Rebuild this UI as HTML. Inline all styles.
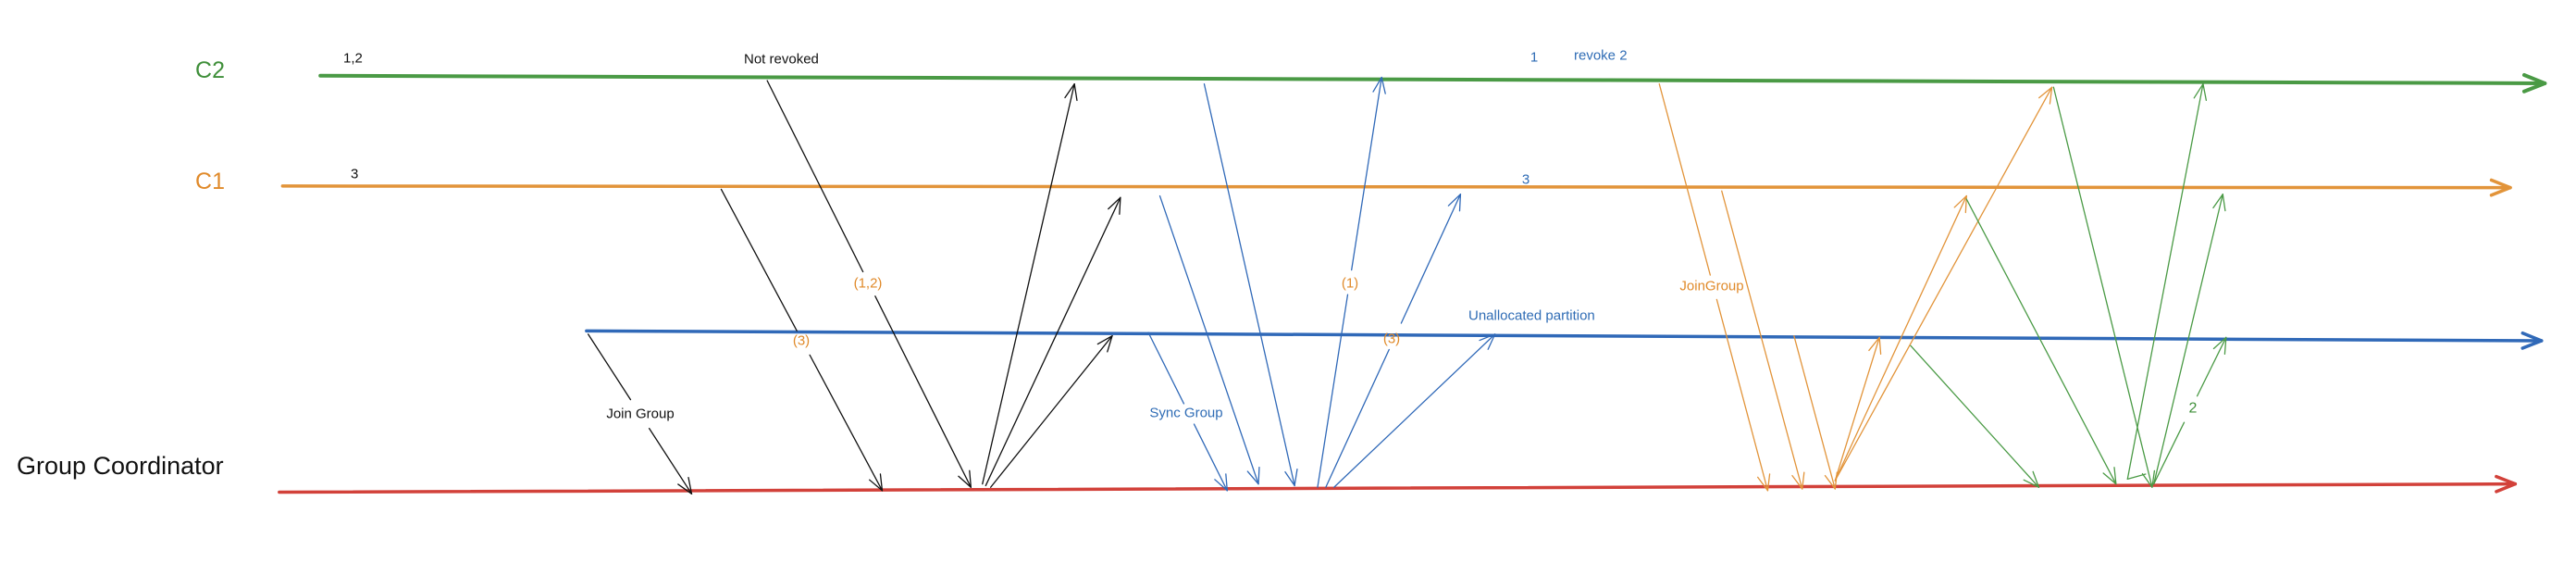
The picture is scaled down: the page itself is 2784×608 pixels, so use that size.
<!DOCTYPE html>
<html><head><meta charset="utf-8"><style>
html,body{margin:0;padding:0;background:#fff;}
svg{display:block;}
text{font-family:"Liberation Sans",sans-serif;}
</style></head><body>
<svg id="s" width="2784" height="608" viewBox="0 0 2784 608" xmlns="http://www.w3.org/2000/svg">
<g id="g"></g>
<text x="227" y="76" font-size="25" fill="#3f8f3a" text-anchor="middle" dominant-baseline="central">C2</text>
<text x="227" y="196" font-size="25" fill="#e08a2a" text-anchor="middle" dominant-baseline="central">C1</text>
<text x="18" y="503" font-size="27" fill="#111" dominant-baseline="central">Group Coordinator</text>
<text x="371" y="63" font-size="15" fill="#111" dominant-baseline="central">1,2</text>
<text x="804" y="64" font-size="15" fill="#111" dominant-baseline="central">Not revoked</text>
<text x="379" y="188" font-size="15" fill="#111" dominant-baseline="central">3</text>
<text x="938" y="306" font-size="15" fill="#e08a2a" text-anchor="middle" dominant-baseline="central">(1,2)</text>
<text x="866" y="368" font-size="15" fill="#e08a2a" text-anchor="middle" dominant-baseline="central">(3)</text>
<text x="692" y="447" font-size="15" fill="#111" text-anchor="middle" dominant-baseline="central">Join Group</text>
<text x="1282" y="446" font-size="15" fill="#2f6cb5" text-anchor="middle" dominant-baseline="central">Sync Group</text>
<text x="1459" y="306" font-size="15" fill="#e08a2a" text-anchor="middle" dominant-baseline="central">(1)</text>
<text x="1504" y="366" font-size="15" fill="#e08a2a" text-anchor="middle" dominant-baseline="central">(3)</text>
<text x="1587" y="341" font-size="15" fill="#2f6cb5" dominant-baseline="central">Unallocated partition</text>
<text x="1658" y="62" font-size="15" fill="#2f6cb5" text-anchor="middle" dominant-baseline="central">1</text>
<text x="1701" y="60" font-size="15" fill="#2f6cb5" dominant-baseline="central">revoke 2</text>
<text x="1649" y="194" font-size="15" fill="#2f6cb5" text-anchor="middle" dominant-baseline="central">3</text>
<text x="1850" y="309" font-size="15" fill="#e08a2a" text-anchor="middle" dominant-baseline="central">JoinGroup</text>
<text x="2370" y="441" font-size="16" fill="#3f8f3a" text-anchor="middle" dominant-baseline="central">2</text>
</svg>
<script>
var sx=2784/1568, sy=608/342, g=document.getElementById('g'), NS='http://www.w3.org/2000/svg';
function ln(x1,y1,x2,y2,c,w){var e=document.createElementNS(NS,'line');e.setAttribute('x1',x1);e.setAttribute('y1',y1);e.setAttribute('x2',x2);e.setAttribute('y2',y2);e.setAttribute('stroke',c);e.setAttribute('stroke-width',w);e.setAttribute('stroke-linecap','round');g.appendChild(e);}
function ar(a,b,c,d,col,w,head,gap){var x1=a*sx,y1=b*sy,x2=c*sx,y2=d*sy;
 if(gap){var t0=gap[0],t1=gap[1];ln(x1,y1,x1+(x2-x1)*t0,y1+(y2-y1)*t0,col,w);ln(x1+(x2-x1)*t1,y1+(y2-y1)*t1,x2,y2,col,w);} else ln(x1,y1,x2,y2,col,w);
 var ang=Math.atan2(y2-y1,x2-x1),L=head||18,k=0.38;
 [ang+Math.PI-k,ang+Math.PI+k].forEach(function(q){ln(x2,y2,x2+L*Math.cos(q),y2+L*Math.sin(q),col,w);});}
var G='#4a9a45',O='#e2943a',B='#3069b8',R='#d2413a',K='#111';
ar(195,46,1549,50.6,G,4,24);
ar(172,113,1528,114,O,3.5,22);
ar(357,201,1547,207,B,3.5,22);
ar(170,299,1531,294,R,3.5,22);
ar(467,49,591,296,K,1.3,18,[0.47,0.53]);
ar(439,115,537,298,K,1.3,18,[0.47,0.55]);
ar(358,203,421,300,K,1.3,18,[0.41,0.59]);
ar(598,294,654,51,K,1.3);
ar(600,295,682,120,K,1.3);
ar(603,296,677,204,K,1.3);
ar(699,202,747,298,B,1.3,18,[0.45,0.58]);
ar(706,119,766,294,B,1.3);
ar(733,51,788,295,B,1.3);
ar(802,296,841,47,B,1.3,18,[0.47,0.53]);
ar(807,296,889,118,B,1.3,18,[0.47,0.56]);
ar(812,296,910,203,B,1.3);
ar(1010,51,1076,298,O,1.3,18,[0.47,0.53]);
ar(1048,116,1097,297,O,1.3);
ar(1092,204,1117,297,O,1.3);
ar(1117,292,1144,205,O,1.3);
ar(1117,292,1197,119,O,1.3);
ar(1117,292,1249,53,O,1.3);
ar(1163,210,1241,296,G,1.3);
ar(1197,121,1288,294,G,1.3);
ar(1250,53,1310,296,G,1.3);
ar(1295,291,1341,51,G,1.3);
ar(1311,294,1353,118,G,1.3);
ar(1311,294,1355,205,G,1.3,18,[0.42,0.6]);
ln(1295*sx,291*sy,1306*sx,288*sy,G,1.3);
</script>
</body></html>
